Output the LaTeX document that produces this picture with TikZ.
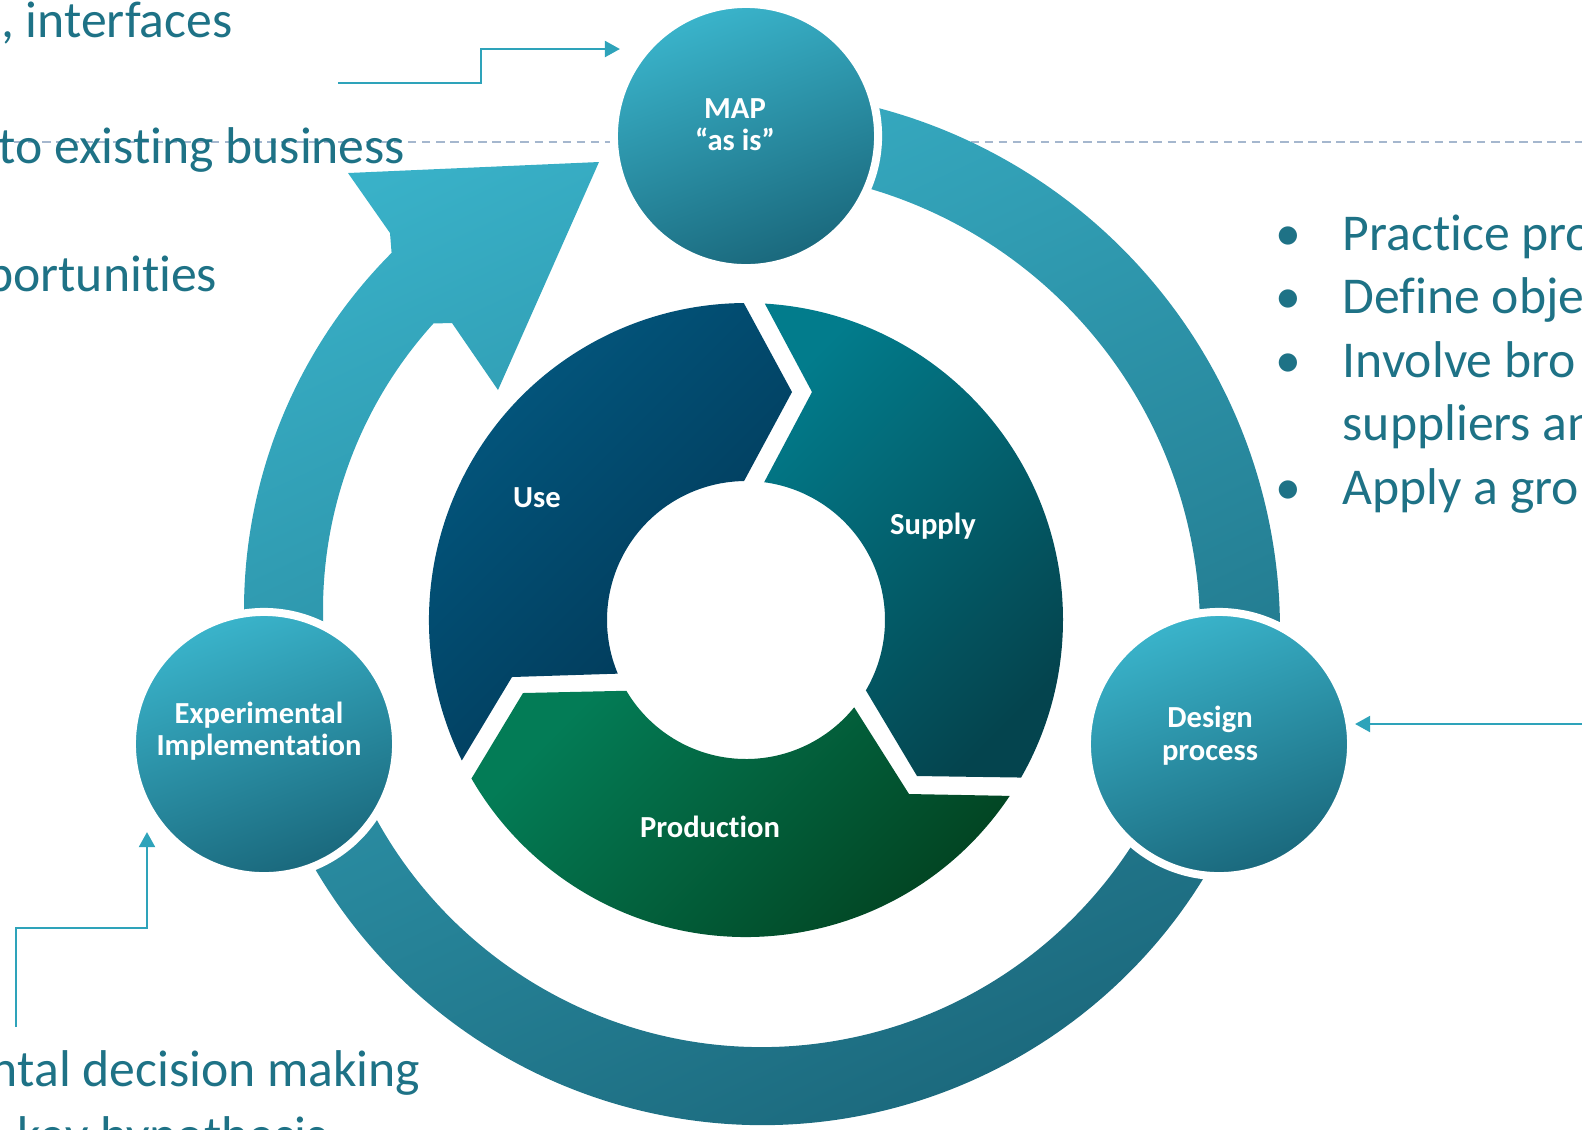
\documentclass[tikz,border=0pt]{standalone}
\usepackage{fontspec}
\setmainfont{Carlito}[Ligatures = {NoCommon, NoContextual}]
\usetikzlibrary{arrows.meta, calc}

\definecolor{tealtext}{RGB}{30,114,134}
\definecolor{tealline}{RGB}{46,163,186}
\definecolor{dashgray}{RGB}{165,183,206}
\definecolor{ringlight}{RGB}{58,180,203}
\definecolor{ringdark}{RGB}{28,106,126}
\definecolor{hublight}{RGB}{58,180,203}
\definecolor{hubdark}{RGB}{26,104,124}
\definecolor{uselight}{RGB}{3,90,130}
\definecolor{usedark}{RGB}{1,54,84}
\definecolor{supplylight}{RGB}{2,124,140}
\definecolor{supplydark}{RGB}{4,68,78}
\definecolor{prodlight}{RGB}{3,124,86}
\definecolor{proddark}{RGB}{2,64,30}

\tikzset{
	hub/.style = {circle, minimum size = 2.64cm, inner sep = 0pt, draw = white, line width = 0.8mm,
		top color = hublight, bottom color = hubdark, shading angle = 20},
	hubtext/.style = {text = white, font = \bfseries\fontsize{8.7}{9.3}\selectfont, anchor = base, inner sep = 0pt},
	bodytext/.style = {text = tealtext, font = \fontsize{14.7}{17}\selectfont, inner sep = 0pt},
	feed/.style = {draw = tealline, line width = 0.8pt, -{Triangle[length = 4.3pt, width = 4.5pt]}}
}

\begin{document}
\begin{tikzpicture}[x = 0.01cm, y = 0.01cm]

	% Canvas
	
	\useasboundingbox (0, 0) rectangle (1582, -1129);
	\clip (0, 0) rectangle (1582, -1129);
	
	% Dashed guide line
	
	\draw [dashgray, line width = 0.6pt, dash pattern = on 2.4pt off 1.6pt] (0, -142) -- (1600, -142);
	
	% Texts on the left
	
	\node [bodytext, anchor = base east] (interfaces) at (233, -37) {s, interfaces};
	\node [bodytext, anchor = base east] (existing) at (406, -163) {to existing business};
	\node [bodytext, anchor = base east] (opportunities) at (218, -291) {portunities};
	\node [bodytext, anchor = base east] (decision) at (421, -1086) {ntal decision making};
	\node [bodytext, anchor = base west] (hypothesis) at (17, -1152) {key hypothesis};
	
	% Points on the right
	
	\node [bodytext, anchor = base] (dotA) at (1288, -250) {\textbullet};
	\node [bodytext, anchor = base] (dotB) at (1288, -313) {\textbullet};
	\node [bodytext, anchor = base] (dotC) at (1288, -377) {\textbullet};
	\node [bodytext, anchor = base] (dotD) at (1288, -504) {\textbullet};
	\node [bodytext, anchor = base west] (practice) at (1342, -250) {Practice pro};
	\node [bodytext, anchor = base west] (define) at (1342, -313) {Define obje};
	\node [bodytext, anchor = base west] (involve) at (1342, -377) {Involve bro};
	\node [bodytext, anchor = base west] (suppliers) at (1342, -440) {suppliers an};
	\node [bodytext, anchor = base west] (apply) at (1342, -504) {Apply a gro};
	
	% Outer cycle with arrow head
	
	\begin{scope}
		\clip (750, -610) ++(194 : 506) arc [start angle = 194, end angle = 135.1, radius = 506]
			-- (390, -233) -- (348, -173) -- (599, -162) -- (498, -390) -- (452, -323)
			-- ($(750, -610) + (137.85 : 427)$) arc [start angle = 137.85, end angle = 194, radius = 427] -- cycle
			(740, -630) ++(95 : 540) arc [start angle = 95, end angle = -15, radius = 540]
			-- ($(740, -630) + (-15 : 460)$) arc [start angle = -15, end angle = 95, radius = 460] -- cycle
			(762, -607) ++(-14 : 518) arc [start angle = -14, end angle = -168, radius = 518]
			-- ($(762, -607) + (-168 : 440)$) arc [start angle = -168, end angle = -14, radius = 440] -- cycle;
		\shade [top color = ringlight, bottom color = ringdark, shading angle = 25] (230, 0) rectangle (1300, -1129);
	\end{scope}
	
	% Inner cycle
	
	\shade [top color = uselight, bottom color = usedark, shading angle = 45]
		(746, -620) ++(206.3 : 317) arc [start angle = 206.3, end angle = 90.4, radius = 317]
		-- (792, -392) -- ($(746, -620) + (90.8 : 139)$) arc [start angle = 90.8, end angle = 202.7, radius = 139]
		-- (512, -677) -- cycle;
	\shade [top color = supplylight, bottom color = supplydark, shading angle = 45]
		(746, -620) ++(86.6 : 317) arc [start angle = 86.6, end angle = -29.8, radius = 317]
		-- (917, -776) -- ($(746, -620) + (-30.4 : 139)$) arc [start angle = -30.4, end angle = 82.5, radius = 139]
		-- (812, -392) -- cycle;
	\shade [top color = prodlight, bottom color = proddark, shading angle = 45]
		($(746, -620) + (210.6 : 139)$) arc [start angle = 210.6, end angle = 321.1, radius = 139]
		-- (909, -794) -- ($(746, -620) + (-33.7 : 317)$) arc [start angle = -33.7, end angle = -150, radius = 317]
		-- (523, -693) -- cycle;
	
	\node [hubtext] (use) at (537, -507) {Use};
	\node [hubtext] (supply) at (933, -534) {Supply};
	\node [hubtext] (production) at (710, -837) {Production};
	
	% Feeding arrows
	
	\coordinate (mapfeed) at (338, -83);
	\coordinate (maptip) at (620, -49);
	\draw [feed] (mapfeed) -- ++(143, 0) |- (maptip);
	
	\coordinate (designfeed) at (1600, -724);
	\coordinate (designtip) at (1355, -724);
	\draw [feed] (designfeed) -- (designtip);
	
	\coordinate (expfeed) at (16, -1027);
	\coordinate (exptip) at (147, -832);
	\draw [feed] (expfeed) -- ++(0, 99) -| (exptip);
	
	% Stages on the outer cycle
	
	\node [hub] (map) at (746, -136) {};
	\node [hub] (design) at (1219, -744) {};
	\node [hub] (experimental) at (264, -744) {};
	
	\node [hubtext] (maptop) at (735, -118) {MAP};
	\node [hubtext] (mapbottom) at (735, -150) {“as is”};
	\node [hubtext] (designtop) at (1210, -727) {Design};
	\node [hubtext] (designbottom) at (1210, -760) {process};
	\node [hubtext] (exptop) at (259, -723) {Experimental};
	\node [hubtext] (expbottom) at (259, -755) {Implementation};

\end{tikzpicture}
\end{document}
